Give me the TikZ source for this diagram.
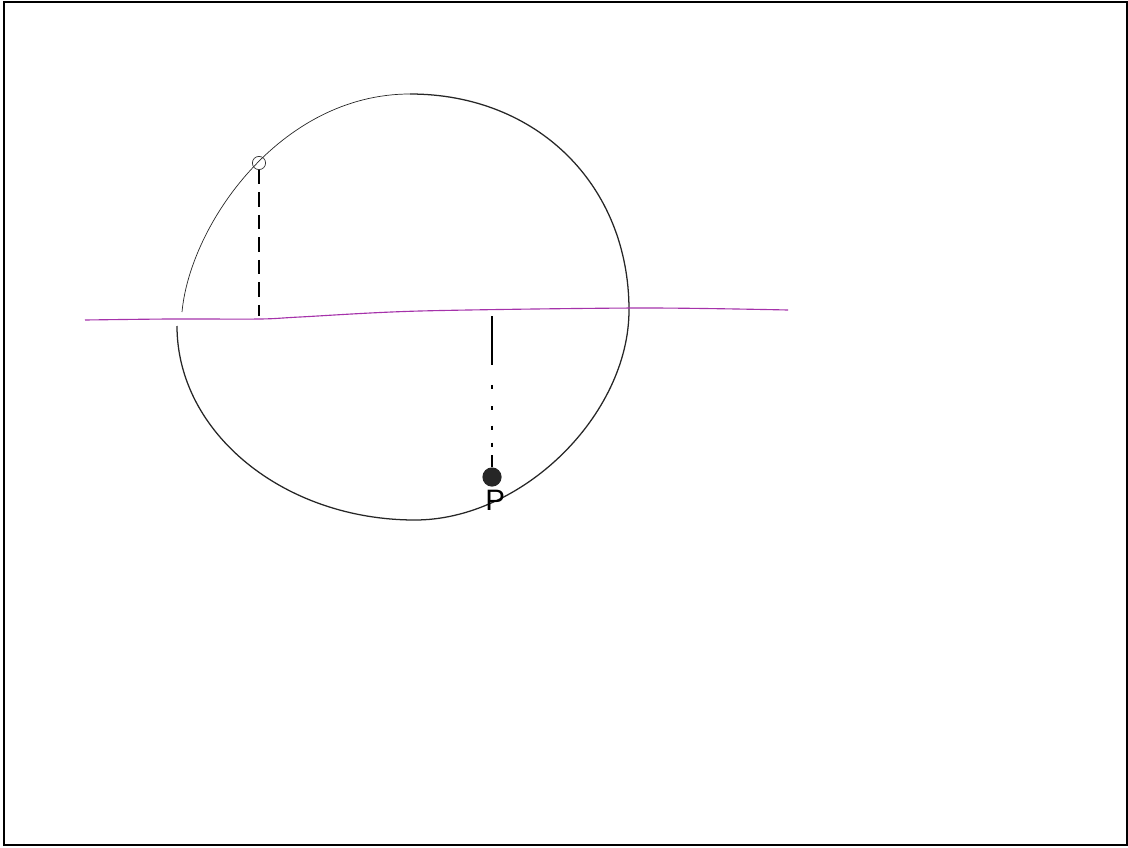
\documentclass[tikz,border=0pt]{standalone}
\usepackage{fontspec}
\setmainfont{Liberation Sans}
\usetikzlibrary{positioning}

\begin{document}
\begin{tikzpicture}[x=0.025cm,y=-0.025cm,
  frame/.style={draw=black,line width=1.4pt},
  orbit/.style={draw=black!85,line width=0.9pt},
  thin orbit/.style={orbit,line width=0.5pt},
  horizon/.style={draw={rgb,255:red,165;green,50;blue,170},line width=0.8pt},
  drop/.style={draw=black,line width=0.8pt,dash pattern=on 10pt off 6pt},
  dotted drop/.style={draw=black,line width=0.8pt,
    dash pattern=on 35pt off 14pt on 3pt off 12pt on 3pt off 11pt
      on 3pt off 9pt on 3pt off 6pt},
  hollow/.style={circle,draw=black!80,line width=0.5pt,inner sep=0pt,
    minimum width=0.33cm,minimum height=0.28cm},
  solid dot/.style={circle,fill=black!85,inner sep=0pt,minimum size=0.48cm},
  label/.style={font=\fontsize{21}{23}\selectfont,inner sep=0pt}]
  \useasboundingbox (0,0) rectangle (1128,847);
  \draw[frame] (4,2) rectangle (1127,845);

  % the circle, drawn by hand
  \draw[thin orbit] (182,312) .. controls (190,225) and (280,94) .. (410,94);
  \draw[orbit] (410,94) .. controls (537,94) and (629,185) .. (629,310)
    .. controls (629,415) and (522,520) .. (415,520)
    .. controls (284,520) and (177,433) .. (177,326);

  % horizon line
  \draw[horizon] plot[smooth,tension=0.5] coordinates {
    (85,320) (170,319) (260,319) (300,317) (420,311) (640,308) (788,310)};
  \coordinate (left foot) at (259,316);
  \coordinate (right foot) at (492,316);

  \node[hollow] (star) at (259,163) {};
  \node[solid dot] (p) at (492,477) {};
  \node[label,below=0.08cm of p,xshift=0.08cm] (plabel) {P};

  \draw[drop] (star.south) -- (left foot);
  \draw[dotted drop] (right foot) -- (p.north);
\end{tikzpicture}
\end{document}
